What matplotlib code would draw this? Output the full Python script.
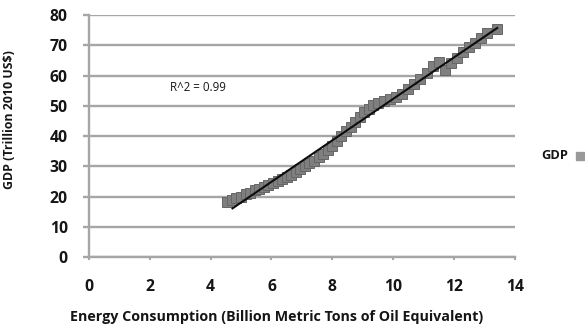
import numpy as np
import matplotlib
matplotlib.use("Agg")
import matplotlib.pyplot as plt

# Energy consumption (billion metric tons of oil equivalent) vs. GDP (trillion 2010 US$)
energy = [4.55, 4.70, 4.85, 5.00, 5.15, 5.30, 5.45, 5.60, 5.75, 5.90,
          6.05, 6.20, 6.35, 6.50, 6.65, 6.80, 6.95, 7.10, 7.25, 7.40,
          7.55, 7.70, 7.85, 8.00, 8.15, 8.30, 8.45, 8.60, 8.75, 8.90,
          9.05, 9.20, 9.35, 9.50, 9.70, 9.90, 10.10, 10.30, 10.50, 10.70,
          10.90, 11.10, 11.30, 11.50, 11.70, 11.90, 12.10, 12.30, 12.50, 12.70,
          12.90, 13.10, 13.40]
gdp = [18.2, 18.8, 19.4, 19.9, 20.7, 21.2, 22.0, 22.6, 23.3, 23.9,
       24.5, 25.0, 25.7, 26.3, 27.2, 28.1, 29.2, 30.1, 31.0, 31.9,
       33.0, 34.2, 35.4, 36.8, 38.3, 39.9, 41.5, 43.1, 44.8, 46.4,
       47.9, 49.1, 50.2, 50.8, 51.6, 52.2, 53.0, 54.0, 55.5, 57.2,
       59.0, 61.0, 63.2, 64.6, 61.9, 64.1, 65.9, 67.7, 69.3, 70.8,
       72.4, 73.9, 75.5]
r2_label = "R^2 = 0.99"
series_name = "GDP"
x_ticks = [0, 2, 4, 6, 8, 10, 12, 14]
y_ticks = [0, 10, 20, 30, 40, 50, 60, 70, 80]

plt.rcParams["font.family"] = ["Open Sans", "DejaVu Sans"]

fig = plt.figure(figsize=(5.85, 3.27), dpi=100)
ax = fig.add_axes([0.152, 0.214, 0.728, 0.740])

grid_col = "#a6a6a6"
text_col = "#151515"
ax.set_xlim(0, 14)
ax.set_ylim(0, 80)
ax.set_xticks(x_ticks)
ax.set_yticks(y_ticks)
ax.yaxis.grid(True, color=grid_col, linewidth=1.7)
ax.set_axisbelow(True)
for side in ("top", "right"):
    ax.spines[side].set_visible(False)
for side in ("left", "bottom"):
    ax.spines[side].set_color(grid_col)
    ax.spines[side].set_linewidth(1.7)
ax.tick_params(axis="y", length=4.3, width=1.7, color=grid_col, pad=11,
               labelsize=11.3)
ax.tick_params(axis="x", length=2.5, width=1.5, color=grid_col, pad=13,
               labelsize=11.3)
for lab in ax.get_xticklabels() + ax.get_yticklabels():
    lab.set_fontweight("bold")
    lab.set_color(text_col)

# scatter of yearly observations
ax.plot(energy, gdp, linestyle="none", marker="s", markersize=7.0,
        markerfacecolor="#7f7f7f", markeredgecolor="#666666",
        markeredgewidth=0.7, zorder=3)

# linear trend line
ex = np.asarray(energy)
slope, intercept = np.polyfit(ex, np.asarray(gdp), 1)
xl = np.array([4.72, 13.42])
ax.plot(xl, slope * xl + intercept, color="#0d0d0d", linewidth=1.5, zorder=4)

ax.text(3.58, 56, r2_label, fontsize=8.3, ha="center", va="center",
        color=text_col)

fig.text(0.016, 0.635, "GDP (Trillion 2010 US$)", rotation=90, fontsize=8.9,
         fontweight="bold", ha="center", va="center", color=text_col)
fig.text(0.473, 0.03, "Energy Consumption (Billion Metric Tons of Oil Equivalent)",
         fontsize=10.3, fontweight="bold", ha="center", va="center",
         color=text_col)

# legend entry
fig.text(0.971, 0.523, series_name, fontsize=9.3, fontweight="bold",
         ha="right", va="center", color=text_col)
fig.add_artist(plt.Line2D([0.991], [0.523], transform=fig.transFigure,
                          marker="s", markersize=6, linestyle="none",
                          markerfacecolor="#999999", markeredgecolor="#999999"))

fig.savefig("out.png", dpi=100, facecolor="white")
